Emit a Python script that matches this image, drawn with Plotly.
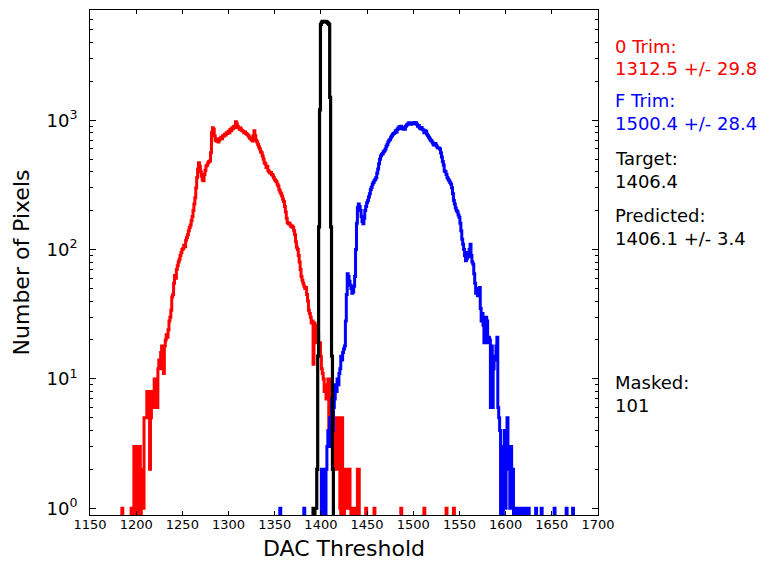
import numpy as np
import plotly.graph_objects as go

# ---------------- data (counts per DAC bin, bin width 1) ----------------
red_start = 1195
red_counts = [
    1, 0, 0, 3, 1, 3, 0, 3, 1, 3,            # 1195-1204
    0, 2, 2, 1, 5, 5, 5, 8, 7, 8,            # 1205-1214
    2, 5, 7, 8, 6, 10, 9, 10, 6, 12,         # 1215-1224
    14, 12, 16, 18, 15, 11, 18, 20, 22, 21,  # 1225-1234
    24, 28, 30, 34, 43, 45, 55, 63, 60, 70,  # 1235-1244
    75, 80, 84, 90, 95, 100, 102, 108, 105, 118,      # 1245-1254
    124, 130, 140, 148, 155, 167, 180, 200, 225, 252, # 1255-1264
    300, 360, 420, 470, 440, 400, 370, 345, 340, 380, # 1265-1274
    410, 443, 450, 470, 480, 484, 560, 800, 875, 850, # 1275-1284
    760, 700, 690, 720, 680, 700, 720, 740, 720, 760, # 1285-1294
    750, 780, 770, 800, 790, 820, 800, 850, 830, 875, # 1295-1304
    860, 900, 880, 975, 940, 900, 880, 850, 870, 840, # 1305-1314
    830, 820, 800, 810, 790, 780, 770, 750, 730, 720, # 1315-1324
    710, 690, 760, 830, 760, 700, 680, 650, 620, 600, # 1325-1334
    570, 560, 530, 500, 470, 460, 430, 440, 410, 400, # 1335-1344
    390, 395, 380, 375, 360, 350, 340, 335, 320, 310, # 1345-1354
    290, 280, 270, 260, 245, 235, 215, 195, 175, 162, # 1355-1364
    158, 160, 155, 150, 152, 148, 140, 130, 115, 104, # 1365-1374
    100, 90, 80, 70, 62, 58, 55, 52, 50, 51,          # 1375-1384
    45, 40, 34, 32, 30, 27, 28, 13, 27, 26,           # 1385-1394
    20, 19, 22, 18, 19, 15, 12, 11, 10, 8,            # 1395-1404
    9, 7, 8, 10, 4, 10, 7, 5, 7, 3,                   # 1405-1414
    5, 2, 2, 4, 5, 5, 1, 0, 5, 1,                     # 1415-1424
    0, 2, 1, 2, 1, 2, 2, 1, 0, 1,                     # 1425-1434
    0, 0, 1, 0, 0, 2, 2,                              # 1435-1441
]
red_single_bins = [1185, 1449, 1458, 1487, 1512, 1536, 1544]

blue_start = 1401
blue_counts = [
    2, 2, 0, 1, 0, 2, 3, 4, 3, 5,                     # 1401-1410
    4, 7, 4, 6, 7, 9, 8, 10, 9, 11,                   # 1411-1420
    12, 15, 14, 16, 17, 18, 28, 45, 65, 62,           # 1421-1430
    57, 53, 50, 46, 47, 52, 62, 100, 160, 211,        # 1431-1440
    225, 215, 200, 180, 165, 158, 175, 200, 215, 230, # 1441-1450
    240, 255, 270, 290, 303, 320, 330, 340, 350, 360, # 1451-1460
    390, 420, 460, 500, 530, 545, 550, 570, 580, 600, # 1461-1470
    630, 650, 680, 700, 710, 740, 760, 780, 790, 800, # 1471-1480
    830, 810, 850, 870, 890, 860, 900, 880, 860, 850, # 1481-1490
    850, 900, 920, 930, 950, 955, 940, 930, 950, 940, # 1491-1500
    960, 950, 955, 930, 900, 910, 875, 860, 880, 850, # 1501-1510
    840, 800, 830, 820, 780, 760, 740, 720, 700, 690, # 1511-1520
    670, 650, 640, 660, 640, 620, 610, 610, 600, 560, # 1521-1530
    520, 480, 450, 405, 400, 380, 360, 350, 340, 330, # 1531-1540
    320, 300, 270, 240, 225, 210, 200, 195, 185, 178, # 1541-1550
    160, 140, 120, 110, 100, 90, 82, 85, 95, 88,      # 1551-1560
    100, 110, 90, 80, 77, 65, 55, 46, 48, 44,         # 1561-1570
    50, 51, 35, 28, 32, 26, 19, 25, 30, 28,           # 1571-1580
    19, 21, 20, 6, 18, 6, 12, 15, 14, 18,             # 1581-1590
    21, 6, 5, 4, 0, 0, 0, 3, 4, 1,                    # 1591-1600
    4, 5, 2, 2, 1, 3, 1, 2,                           # 1601-1608
]
blue_single_bins = [1356, 1382, 1612, 1615, 1619, 1622, 1625,
                    1633, 1639, 1653, 1666, 1673]

black_start = 1392
black_counts = [1, 0, 1, 1, 2, 15, 150, 1200, 5500, 5700, 5800,
                5800, 5750, 5800, 5750, 5700, 5600, 5500, 1500, 150, 15, 2]

stat_labels = ["0 Trim:", "1312.5 +/- 29.8", "F Trim:", "1500.4 +/- 28.4",
               "Target:", "1406.4", "Predicted:", "1406.1 +/- 3.4",
               "Masked:", "101"]
y_tick_values = [1, 10, 100, 1000]
y_tick_labels = ["10<sup>0</sup>", "10<sup>1</sup>", "10<sup>2</sup>", "10<sup>3</sup>"]
x_tick_values = list(range(1150, 1701, 50))


def build(start, counts, singles):
    d = {}
    for i, c in enumerate(counts):
        d[start + i] = d.get(start + i, 0) + c
    for s in singles:
        d[s] = d.get(s, 0) + 1
    lo, hi = min(d), max(d)
    return lo, [d.get(k, 0) for k in range(lo, hi + 1)]


FLOOR = 1e-3


def step_xy(lo, vals):
    edges = np.arange(lo, lo + len(vals) + 1) - 0.5
    v = [c if c > 0 else FLOOR for c in vals]
    x = [edges[0]] + list(edges[:-1]) + [edges[-1]]
    y = [FLOOR] + v + [FLOOR]
    return x, y


fig = go.Figure()
for (start, counts, singles, color, w) in [
        (red_start, red_counts, red_single_bins, "#ff0000", 3.0),
        (blue_start, blue_counts, blue_single_bins, "#0000ff", 3.0),
        (black_start, black_counts, [], "#000000", 3.2)]:
    lo, vals = build(start, counts, singles)
    x, y = step_xy(lo, vals)
    fig.add_trace(go.Scatter(x=x, y=y, mode="lines",
                             line=dict(color=color, width=w, shape="hv", simplify=False),
                             showlegend=False, hoverinfo="skip"))

stat_colors = ["#ff0000", "#ff0000", "#0000ff", "#0000ff", "#000000", "#000000",
               "#000000", "#000000", "#000000", "#000000"]
stat_ypx = [46.5, 68.5, 100.5, 123.5, 158.5, 181.5, 215, 238.5, 382, 405]
plot_top, plot_bot, plot_left, plot_right = 10, 515, 90, 598
for txt, col, ypx in zip(stat_labels, stat_colors, stat_ypx):
    fig.add_annotation(text=txt, xref="paper", yref="paper",
                       x=(613 - plot_left) / (plot_right - plot_left),
                       y=(plot_bot - ypx) / (plot_bot - plot_top),
                       xanchor="left", yanchor="middle", showarrow=False,
                       font=dict(size=18, color=col, family="DejaVu Sans"))

minor_vals = [m * 10 ** e for e in range(0, 4) for m in range(2, 10)]

fig.update_layout(
    width=760, height=561,
    margin=dict(l=90, r=162, t=10, b=46, autoexpand=False),
    paper_bgcolor="white", plot_bgcolor="white",
    font=dict(family="DejaVu Sans", color="black"),
    xaxis=dict(range=[1150, 1700], tickmode="array", tickvals=x_tick_values,
               ticks="inside", ticklen=4, tickcolor="black", mirror="ticks",
               showline=True, linecolor="black", linewidth=1, showgrid=False,
               zeroline=False, tickfont=dict(size=13), ticklabelstandoff=-3,
               automargin=False,
               title=dict(text="DAC Threshold", font=dict(size=22), standoff=10)),
    yaxis=dict(type="log", range=[-0.052, 3.852], tickmode="array",
               tickvals=y_tick_values, ticktext=y_tick_labels,
               ticks="inside", ticklen=6, tickcolor="black", mirror="ticks",
               showline=True, linecolor="black", linewidth=1, showgrid=False,
               zeroline=False, tickfont=dict(size=18), ticklabelstandoff=8,
               automargin=False,
               minor=dict(tickmode="array", tickvals=minor_vals, ticks="inside",
                          ticklen=3, tickcolor="black", showgrid=False),
               title=dict(text="Number of Pixels", font=dict(size=22), standoff=10)),
)

fig.write_html("out.html", config={"displayModeBar": False},
               post_script="document.body.style.margin='0px';")
